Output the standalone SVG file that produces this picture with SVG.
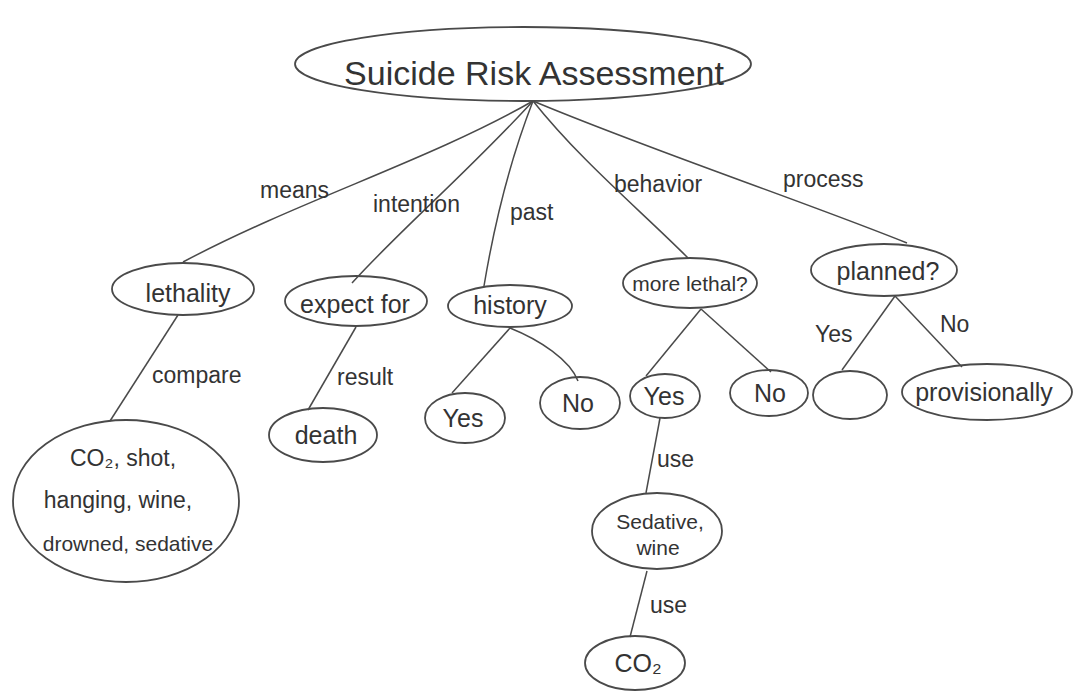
<svg xmlns="http://www.w3.org/2000/svg" width="1077" height="693" viewBox="0 0 1077 693">
<style>
.n{fill:none;stroke:#4a4a4a;stroke-width:1.8}
.e{fill:none;stroke:#4a4a4a;stroke-width:1.5}
text{font-family:"Liberation Sans",Arial,sans-serif;fill:#333}
.t{font-size:25px;text-anchor:middle}
.s{font-size:21px;text-anchor:middle}
.l{font-size:23px}
</style>
<rect width="1077" height="693" fill="#fff"/>
<g id="connectors">
<path class="e" d="M533 101 C430 160 300 200 183 262"/>
<path class="e" d="M533 101 C470 170 400 230 352 283"/>
<path class="e" d="M533 101 C510 160 495 220 484 286"/>
<path class="e" d="M533 101 C580 160 640 210 688 258"/>
<path class="e" d="M533 101 C650 150 800 200 907 243"/>
<path class="e" d="M178 315 L110 421"/>
<path class="e" d="M356 327 L308 410"/>
<path class="e" d="M510 328 L452 393"/>
<path class="e" d="M510 328 C540 340 570 360 578 381"/>
<path class="e" d="M701 309 L646 376"/>
<path class="e" d="M701 309 L771 372"/>
<path class="e" d="M895 296 L842 370"/>
<path class="e" d="M895 296 L962 367"/>
<path class="e" d="M660 418 L646 493"/>
<path class="e" d="M647 571 L630 637"/>
<text class="l" x="260" y="198">means</text>
<text class="l" x="373" y="212">intention</text>
<text class="l" x="510" y="220">past</text>
<text class="l" x="614" y="192">behavior</text>
<text class="l" x="783" y="187">process</text>
<text class="l" x="152" y="383">compare</text>
<text class="l" x="337" y="385">result</text>
<text class="l" x="815" y="342">Yes</text>
<text class="l" x="940" y="332">No</text>
<text class="l" x="657" y="467">use</text>
<text class="l" x="650" y="613">use</text>
</g>
<g id="root"><ellipse class="n" cx="523" cy="64" rx="228" ry="37"/><text x="534" y="85" style="font-size:34px;text-anchor:middle">Suicide Risk Assessment</text></g>
<g id="lethality"><ellipse class="n" cx="183" cy="289" rx="71" ry="26"/><text class="t" x="188" y="302">lethality</text></g>
<g id="expect"><ellipse class="n" cx="356" cy="301" rx="71" ry="25"/><text class="t" x="355" y="313">expect for</text></g>
<g id="history"><ellipse class="n" cx="510" cy="306" rx="62" ry="21"/><text class="t" x="510" y="314">history</text></g>
<g id="morelethal"><ellipse class="n" cx="690" cy="283" rx="67" ry="25"/><text class="s" x="690" y="291">more lethal?</text></g>
<g id="planned"><ellipse class="n" cx="884" cy="270" rx="73" ry="26"/><text class="t" x="888" y="280">planned?</text></g>
<g id="means-list"><ellipse class="n" cx="126" cy="501" rx="113" ry="81"/>
<text class="s" x="123" y="466" style="font-size:23px">CO₂, shot,</text>
<text class="s" x="118" y="508" style="font-size:23px">hanging, wine,</text>
<text class="s" x="128" y="551">drowned, sedative</text></g>
<g id="death"><ellipse class="n" cx="323" cy="435" rx="54" ry="27"/><text class="t" x="326" y="444">death</text></g>
<g id="hist-yes"><ellipse class="n" cx="465" cy="418" rx="40" ry="25"/><text class="t" x="463" y="427">Yes</text></g>
<g id="hist-no"><ellipse class="n" cx="580" cy="403" rx="40" ry="26"/><text class="t" x="578" y="412">No</text></g>
<g id="ml-yes"><ellipse class="n" cx="665" cy="396" rx="35" ry="22"/><text class="t" x="664" y="405">Yes</text></g>
<g id="ml-no"><ellipse class="n" cx="769" cy="393" rx="39" ry="23"/><text class="t" x="770" y="402">No</text></g>
<g id="blank"><ellipse class="n" cx="850" cy="395" rx="37" ry="24"/></g>
<g id="provisionally"><ellipse class="n" cx="987" cy="392" rx="85" ry="28"/><text class="t" x="984" y="401">provisionally</text></g>
<g id="sedative"><ellipse class="n" cx="657" cy="531" rx="65" ry="38"/><text class="s" x="660" y="529">Sedative,</text><text class="s" x="658" y="555">wine</text></g>
<g id="co2"><ellipse class="n" cx="635" cy="663" rx="50" ry="27"/><text class="t" x="638" y="672">CO₂</text></g>
</svg>
